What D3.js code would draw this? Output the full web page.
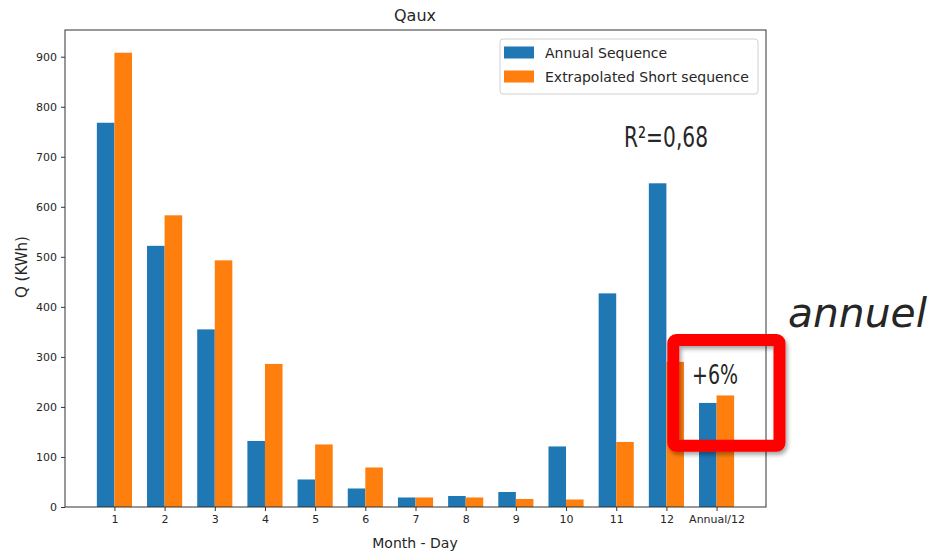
<!DOCTYPE html>
<html>
<head>
<meta charset="utf-8">
<script src="https://cdn.jsdelivr.net/npm/d3@7/dist/d3.min.js"></script>
<style>
  html, body { margin: 0; padding: 0; background: #fff; }
  svg { display: block; }
  text { font-family: "DejaVu Sans", sans-serif; fill: #262626; }
</style>
</head>
<body>
<svg id="chart" width="933" height="555"></svg>
<script>
// Monthly auxiliary heat demand Q (kWh)
const categories = ["1", "2", "3", "4", "5", "6", "7", "8", "9", "10", "11", "12", "Annual/12"];
const annualSequence = [768, 522, 355, 132, 55, 37, 19, 22, 30, 121, 427, 647, 208];
const extrapolatedShort = [908, 583, 493, 286, 125, 79, 19, 19, 16, 15, 130, 290, 223];
const yTicks = [0, 100, 200, 300, 400, 500, 600, 700, 800, 900];
const seriesNames = ["Annual Sequence", "Extrapolated Short sequence"];
const seriesColors = ["#1f77b4", "#ff7f0e"];

const svg = d3.select("#chart");
const plot = { left: 65, right: 766, top: 30, bottom: 507 };
const barW = 0.35;

const x = d3.scaleLinear().domain([0.015, 13.985]).range([plot.left, plot.right]);
const y = d3.scaleLinear().domain([0, 953.4]).range([plot.bottom, plot.top]);

const defs = svg.append("defs");
defs.append("filter").attr("id", "shadow")
  .attr("x", "-20%").attr("y", "-20%").attr("width", "140%").attr("height", "140%")
  .append("feDropShadow")
  .attr("dx", 2).attr("dy", 3).attr("stdDeviation", 2)
  .attr("flood-color", "#000").attr("flood-opacity", 0.35);

// bars
const series = [annualSequence, extrapolatedShort];
series.forEach((vals, s) => {
  svg.append("g").selectAll("rect")
    .data(vals)
    .join("rect")
    .attr("x", (d, i) => x(i + 1 + (s === 0 ? -barW : 0)))
    .attr("width", x(barW) - x(0))
    .attr("y", d => y(d))
    .attr("height", d => y(0) - y(d))
    .attr("fill", seriesColors[s]);
});

// axes
const xAxis = d3.axisBottom(x)
  .tickValues(categories.map((c, i) => i + 1))
  .tickFormat((d, i) => categories[i])
  .tickSizeOuter(0).tickSize(4).tickPadding(4);
const gx = svg.append("g").attr("transform", `translate(0,${plot.bottom})`).call(xAxis);

const yAxis = d3.axisLeft(y).tickValues(yTicks).tickSizeOuter(0).tickSize(4).tickPadding(4);
const gy = svg.append("g").attr("transform", `translate(${plot.left},0)`).call(yAxis);

[gx, gy].forEach(g => {
  g.select(".domain").remove();
  g.selectAll(".tick line").attr("stroke", "#333");
  g.selectAll(".tick text").attr("font-size", 11).attr("font-family", "DejaVu Sans, sans-serif").attr("fill", "#262626");
});

// frame
svg.append("rect")
  .attr("x", plot.left).attr("y", plot.top)
  .attr("width", plot.right - plot.left).attr("height", plot.bottom - plot.top)
  .attr("fill", "none").attr("stroke", "#333").attr("stroke-width", 1);

// title and axis labels
svg.append("text").attr("x", 415).attr("y", 21).attr("text-anchor", "middle")
  .attr("font-size", 16).text("Qaux");
svg.append("text").attr("x", 415).attr("y", 548).attr("text-anchor", "middle")
  .attr("font-size", 14).text("Month - Day");
svg.append("text")
  .attr("transform", "translate(27,267) rotate(-90)")
  .attr("text-anchor", "middle")
  .attr("font-size", 15).text("Q (KWh)");

// legend
const lg = svg.append("g");
lg.append("rect").attr("x", 500).attr("y", 39).attr("width", 258).attr("height", 55)
  .attr("rx", 3).attr("fill", "#fff").attr("fill-opacity", 0.8)
  .attr("stroke", "#d0d0d0").attr("stroke-width", 1);
seriesNames.forEach((name, i) => {
  lg.append("rect").attr("x", 504).attr("y", 46.5 + i * 24).attr("width", 30).attr("height", 12)
    .attr("fill", seriesColors[i]);
  lg.append("text").attr("x", 545).attr("y", 58 + i * 24).attr("font-size", 14).text(name);
});

// annotations
svg.append("text").attr("x", 624).attr("y", 147)
  .attr("font-family", "Open Sans, sans-serif").attr("font-size", 28)
  .attr("textLength", 84).attr("lengthAdjust", "spacingAndGlyphs")
  .attr("fill", "#111").text("R²=0,68");

svg.append("text").attr("x", 692).attr("y", 384)
  .attr("font-family", "Open Sans, sans-serif").attr("font-size", 26)
  .attr("textLength", 46).attr("lengthAdjust", "spacingAndGlyphs")
  .attr("fill", "#111").text("+6%");

svg.append("text").attr("x", 788).attr("y", 327)
  .attr("font-family", "Open Sans, sans-serif").attr("font-style", "italic").attr("font-size", 40)
  .attr("textLength", 139).attr("lengthAdjust", "spacingAndGlyphs")
  .attr("fill", "#000").text("annuel");

// highlight around the annual bar pair
svg.append("rect")
  .attr("x", 673.3).attr("y", 340).attr("width", 106.2).attr("height", 105.8)
  .attr("rx", 3)
  .attr("fill", "none").attr("stroke", "#ff0000").attr("stroke-width", 12)
  .attr("stroke-linejoin", "round")
  .attr("filter", "url(#shadow)");
</script>
</body>
</html>
